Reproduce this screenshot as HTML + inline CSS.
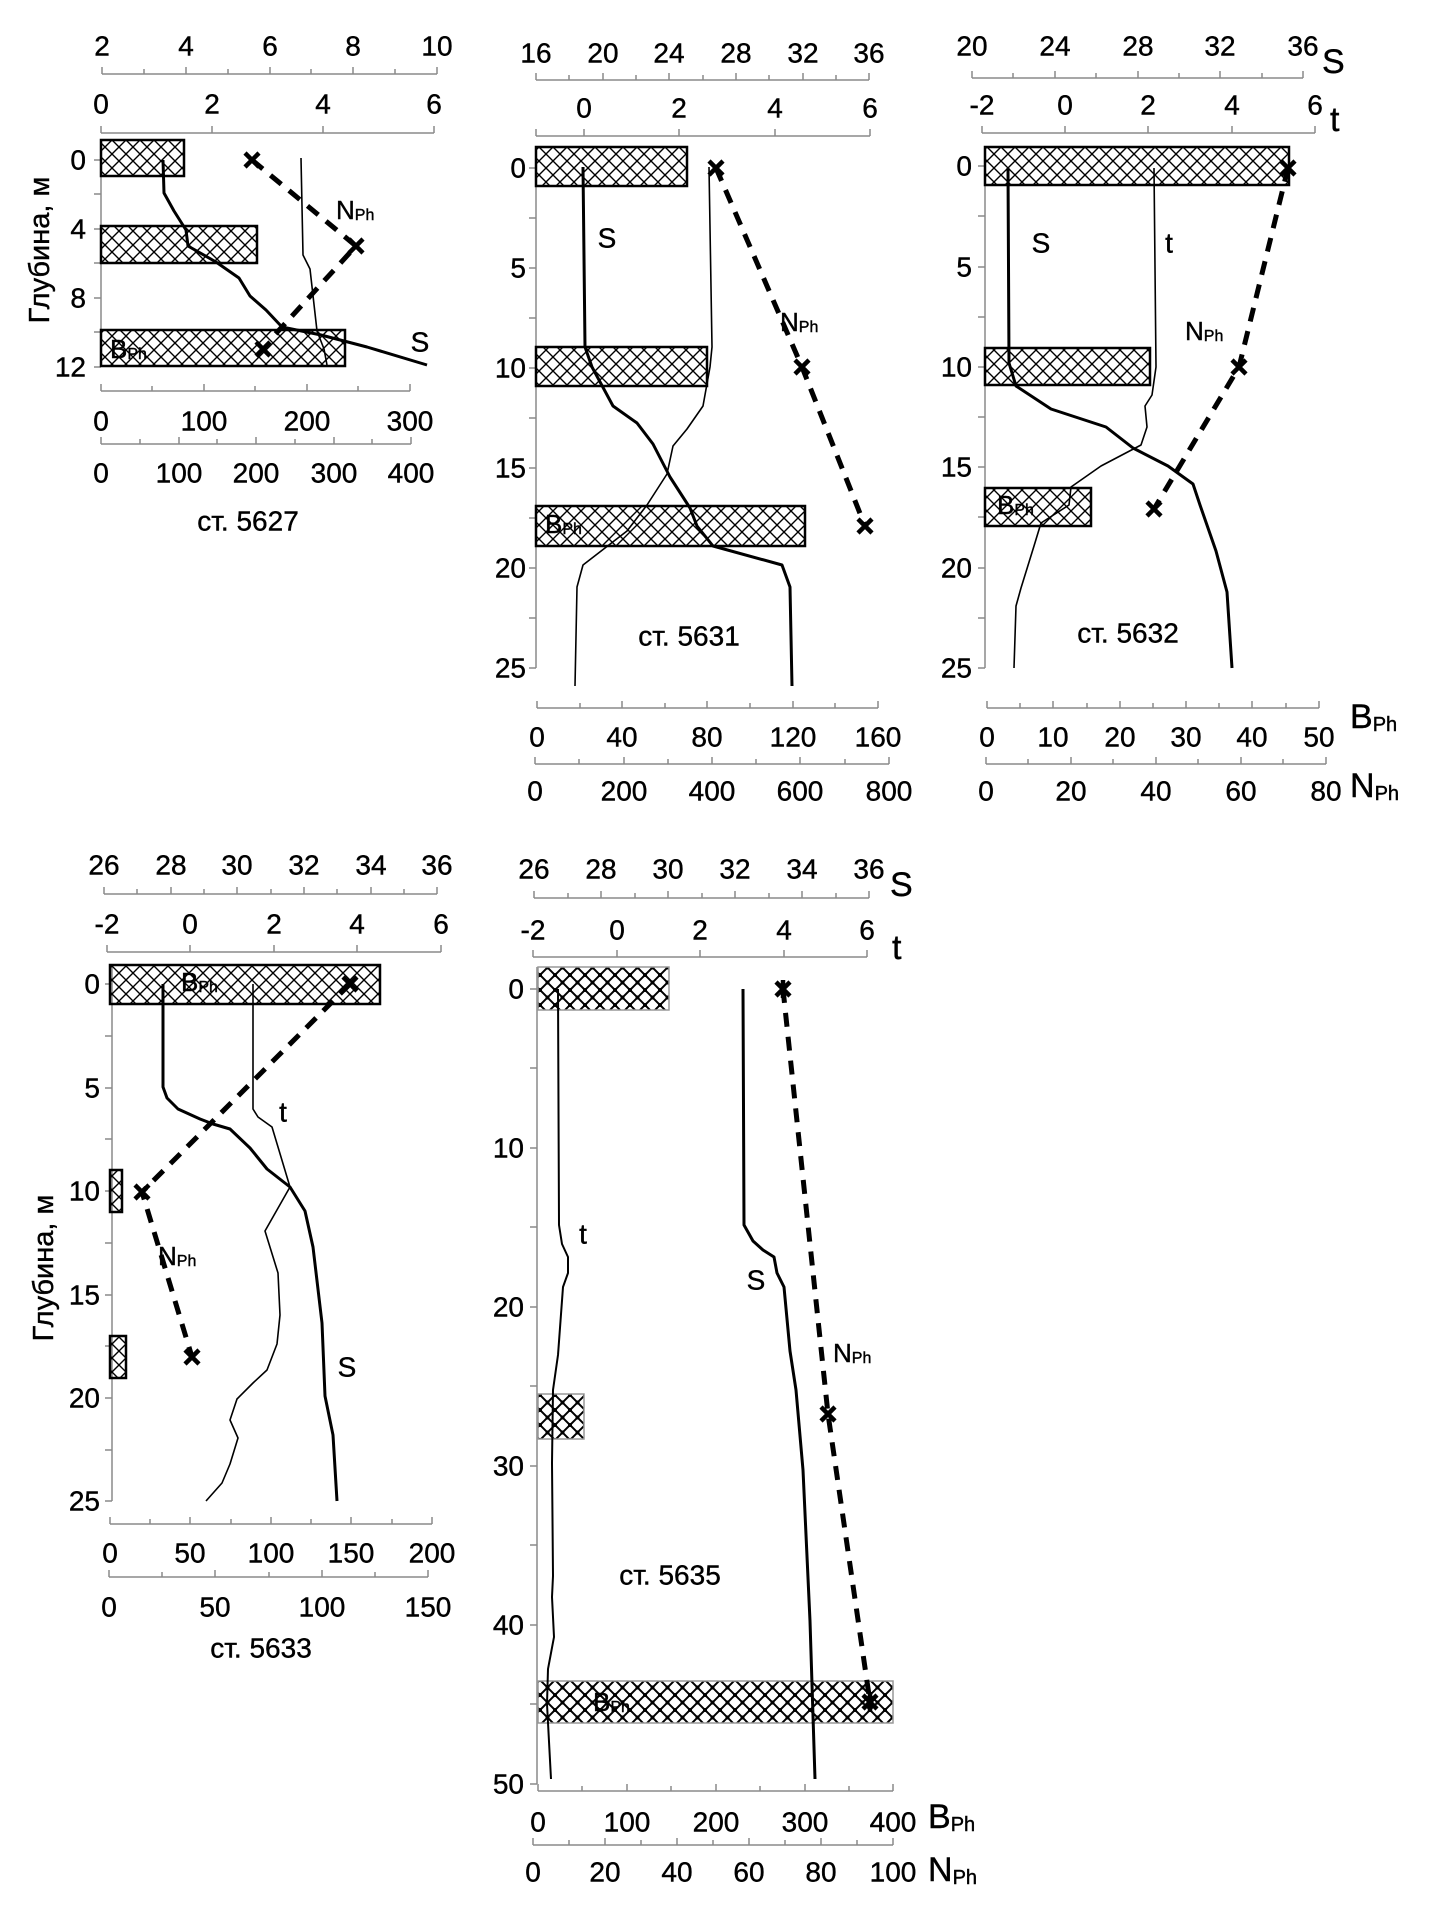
<!DOCTYPE html>
<html><head><meta charset="utf-8"><style>
html,body{margin:0;padding:0;background:#fff}
svg{display:block}
text{font-family:"Liberation Sans","DejaVu Sans",sans-serif;fill:#000;stroke:#000;stroke-width:0.4}
</style></head><body>
<svg width="1443" height="1920" viewBox="0 0 1443 1920" xmlns="http://www.w3.org/2000/svg">
<defs>
<pattern id="h" patternUnits="userSpaceOnUse" width="14" height="14">
<path d="M0 0L14 14M14 0L0 14" stroke="#000" stroke-width="1.4"/>
</pattern>
<pattern id="h2" patternUnits="userSpaceOnUse" width="15" height="15">
<path d="M0 0L15 15M15 0L0 15" stroke="#000" stroke-width="2"/>
<circle cx="0" cy="0" r="2"/><circle cx="15" cy="0" r="2"/><circle cx="0" cy="15" r="2"/><circle cx="15" cy="15" r="2"/><circle cx="7.5" cy="7.5" r="2"/>
</pattern>
</defs>

<g stroke="#8a8a8a" stroke-width="1.5" fill="none">
<path d="M102 74H437M102 74v-7M144 74v-5M186 74v-7M228 74v-5M270 74v-7M311 74v-5M353 74v-7M395 74v-5M437 74v-7"/>
<path d="M101 133H434M101 133v-7M212 133v-7M323 133v-7M434 133v-7"/>
<path d="M101 140V367M101 160h-7M101 194h-7M101 229h-7M101 263h-7M101 298h-7M101 332h-7M101 367h-7"/>
<path d="M101 391H410M101 391v-7M152 391v-5M204 391v-7M255 391v-5M307 391v-7M358 391v-5M410 391v-7"/>
<path d="M101 444H411M101 444v-7M140 444v-5M179 444v-7M217 444v-5M256 444v-7M295 444v-5M334 444v-7M372 444v-5M411 444v-7"/>
<path d="M536 80H869M536 80v-7M569 80v-5M603 80v-7M636 80v-5M669 80v-7M703 80v-5M736 80v-7M769 80v-5M803 80v-7M836 80v-5M869 80v-7"/>
<path d="M536 136H870M536 136v-7M584 136v-7M679 136v-7M775 136v-7M870 136v-7"/>
<path d="M536 147V668M536 168h-7M536 218h-7M536 268h-7M536 318h-7M536 368h-7M536 418h-7M536 468h-7M536 518h-7M536 568h-7M536 618h-7M536 668h-7"/>
<path d="M537 708H878M537 708v-7M580 708v-5M622 708v-7M665 708v-5M707 708v-7M750 708v-5M793 708v-7M835 708v-5M878 708v-7"/>
<path d="M535 764H889M535 764v-7M579 764v-5M624 764v-7M668 764v-5M712 764v-7M756 764v-5M800 764v-7M845 764v-5M889 764v-7"/>
<path d="M972 78H1303M972 78v-7M1013 78v-5M1055 78v-7M1096 78v-5M1138 78v-7M1179 78v-5M1220 78v-7M1262 78v-5M1303 78v-7"/>
<path d="M982 133H1315M982 133v-7M1065 133v-7M1148 133v-7M1232 133v-7M1315 133v-7"/>
<path d="M985 147V668M985 166h-7M985 216h-7M985 267h-7M985 317h-7M985 367h-7M985 417h-7M985 467h-7M985 517h-7M985 568h-7M985 618h-7M985 668h-7"/>
<path d="M987 708H1319M987 708v-7M1020 708v-5M1053 708v-7M1087 708v-5M1120 708v-7M1153 708v-5M1186 708v-7M1219 708v-5M1252 708v-7M1286 708v-5M1319 708v-7"/>
<path d="M986 764H1326M986 764v-7M1028 764v-5M1071 764v-7M1113 764v-5M1156 764v-7M1198 764v-5M1241 764v-7M1283 764v-5M1326 764v-7"/>
<path d="M104 894H437M104 894v-7M137 894v-5M171 894v-7M204 894v-5M237 894v-7M271 894v-5M304 894v-7M337 894v-5M371 894v-7M404 894v-5M437 894v-7"/>
<path d="M107 952H441M107 952v-7M190 952v-7M274 952v-7M357 952v-7M441 952v-7"/>
<path d="M112 965V1501M112 984h-7M112 1036h-7M112 1088h-7M112 1139h-7M112 1191h-7M112 1243h-7M112 1295h-7M112 1346h-7M112 1398h-7M112 1450h-7M112 1501h-7"/>
<path d="M110 1524H432M110 1524v-7M150 1524v-5M190 1524v-7M231 1524v-5M271 1524v-7M311 1524v-5M351 1524v-7M392 1524v-5M432 1524v-7"/>
<path d="M109 1577H428M109 1577v-7M162 1577v-5M215 1577v-7M269 1577v-5M322 1577v-7M375 1577v-5M428 1577v-7"/>
<path d="M534 898H869M534 898v-7M568 898v-5M601 898v-7M635 898v-5M668 898v-7M702 898v-5M735 898v-7M769 898v-5M802 898v-7M836 898v-5M869 898v-7"/>
<path d="M533 957H867M533 957v-7M617 957v-7M700 957v-7M784 957v-7M867 957v-7"/>
<path d="M537 967V1784M537 989h-7M537 1068h-7M537 1148h-7M537 1227h-7M537 1307h-7M537 1386h-7M537 1466h-7M537 1545h-7M537 1625h-7M537 1704h-7M537 1784h-7"/>
<path d="M538 1791H893M538 1791v-7M582 1791v-5M627 1791v-7M671 1791v-5M716 1791v-7M760 1791v-5M805 1791v-7M849 1791v-5M893 1791v-7"/>
<path d="M533 1845H893M533 1845v-7M569 1845v-5M605 1845v-7M641 1845v-5M677 1845v-7M713 1845v-5M749 1845v-7M785 1845v-5M821 1845v-7M857 1845v-5M893 1845v-7"/>
</g>

<g fill="url(#h)" stroke="#000" stroke-width="2.5">
<rect x="101" y="140" width="83" height="36"/>
<rect x="101" y="226" width="156" height="37"/>
<rect x="101" y="330" width="244" height="36"/>
<rect x="536" y="147" width="151" height="39"/>
<rect x="536" y="347" width="171" height="39"/>
<rect x="536" y="506" width="269" height="40"/>
<rect x="985" y="147" width="304" height="38"/>
<rect x="985" y="348" width="165" height="37"/>
<rect x="985" y="488" width="106" height="38"/>
<rect x="110" y="965" width="270" height="39"/>
<rect x="110" y="1170" width="12" height="42"/>
<rect x="110" y="1336" width="16" height="42"/>
</g>
<g fill="url(#h2)" stroke="#999" stroke-width="1.5">
<rect x="538" y="967" width="131" height="43"/>
<rect x="538" y="1394" width="46" height="45"/>
<rect x="538" y="1681" width="355" height="42"/>
</g>

<g fill="none" stroke="#000" stroke-linejoin="round">
<polyline stroke-width="3" points="163,160 164,193 174,211 186,230 188,246 216,262 239,278 250,296 266,310 282,327 321,335 367,347 427,365"/>
<polyline stroke-width="1.6" points="301,158 303,255 310,269 317,331 324,349 327,365"/>
<polyline stroke-width="3" points="583,167 585,347 592,367 613,406 637,423 653,444 670,477 690,508 697,526 713,546 782,565 790,587 792,686"/>
<polyline stroke-width="1.6" points="709,167 712,347 710,367 703,406 687,429 673,446 667,474 647,505 627,531 583,565 577,587 575,686"/>
<polyline stroke-width="3" points="1008,168 1009,363 1016,386 1051,409 1106,427 1133,448 1168,466 1193,484 1200,505 1216,551 1227,592 1232,668"/>
<polyline stroke-width="1.6" points="1154,168 1156,367 1152,395 1145,406 1147,427 1141,445 1101,466 1071,487 1069,505 1041,523 1034,546 1021,588 1016,606 1014,668"/>
<polyline stroke-width="3" points="163,984 163,1087 167,1098 178,1109 200,1119 213,1124 230,1129 250,1148 267,1169 290,1187 305,1211 313,1247 322,1323 325,1396 333,1435 337,1501"/>
<polyline stroke-width="1.6" points="253,984 253,1109 258,1117 272,1127 290,1187 265,1231 278,1273 280,1315 277,1344 267,1370 253,1383 237,1399 230,1420 238,1438 230,1464 222,1483 206,1501"/>
<polyline stroke-width="2" points="558,989 559,1225 562,1244 568,1257 568,1273 563,1287 558,1355 553,1390 552,1463 553,1576 552,1597 554,1637 548,1669 547,1704 551,1779"/>
<polyline stroke-width="3" points="743,989 744,1225 753,1241 763,1250 774,1257 777,1273 784,1287 790,1351 796,1390 803,1470 810,1621 815,1779"/>
</g>
<g fill="none" stroke="#000" stroke-width="5" stroke-dasharray="14 10">
<polyline points="252,160 356,246 270,340"/>
<polyline points="716,168 802,367 865,526"/>
<polyline points="1288,168 1239,367 1154,509"/>
<polyline points="350,984 142,1192 192,1357"/>
<polyline points="783,989 828,1414 870,1702"/>
</g>
<g stroke="#000" stroke-width="4.5">
<path d="M245 153l14 14M259 153l-14 14"/>
<path d="M349 239l14 14M363 239l-14 14"/>
<path d="M256 342l14 14M270 342l-14 14"/>
<path d="M709 161l14 14M723 161l-14 14"/>
<path d="M795 360l14 14M809 360l-14 14"/>
<path d="M858 519l14 14M872 519l-14 14"/>
<path d="M1281 161l14 14M1295 161l-14 14"/>
<path d="M1232 360l14 14M1246 360l-14 14"/>
<path d="M1147 502l14 14M1161 502l-14 14"/>
<path d="M343 977l14 14M357 977l-14 14"/>
<path d="M135 1185l14 14M149 1185l-14 14"/>
<path d="M185 1350l14 14M199 1350l-14 14"/>
<path d="M776 982l14 14M790 982l-14 14M783 980v18"/>
<path d="M821 1407l14 14M835 1407l-14 14"/>
<path d="M863 1695l14 14M877 1695l-14 14M870 1692v20"/>
</g>

<g font-size="28" text-anchor="middle" dominant-baseline="central">
<text x="102" y="46">2</text><text x="186" y="46">4</text><text x="270" y="46">6</text><text x="353" y="46">8</text><text x="437" y="46">10</text>
<text x="101" y="104">0</text><text x="212" y="104">2</text><text x="323" y="104">4</text><text x="434" y="104">6</text>
<text x="101" y="421">0</text><text x="204" y="421">100</text><text x="307" y="421">200</text><text x="410" y="421">300</text>
<text x="101" y="473">0</text><text x="179" y="473">100</text><text x="256" y="473">200</text><text x="334" y="473">300</text><text x="411" y="473">400</text>
<text x="248" y="521">ст. 5627</text>
<text x="536" y="53">16</text><text x="603" y="53">20</text><text x="669" y="53">24</text><text x="736" y="53">28</text><text x="803" y="53">32</text><text x="869" y="53">36</text>
<text x="584" y="108">0</text><text x="679" y="108">2</text><text x="775" y="108">4</text><text x="870" y="108">6</text>
<text x="537" y="737">0</text><text x="622" y="737">40</text><text x="707" y="737">80</text><text x="793" y="737">120</text><text x="878" y="737">160</text>
<text x="535" y="791">0</text><text x="624" y="791">200</text><text x="712" y="791">400</text><text x="800" y="791">600</text><text x="889" y="791">800</text>
<text x="689" y="636">ст. 5631</text>
<text x="972" y="46">20</text><text x="1055" y="46">24</text><text x="1138" y="46">28</text><text x="1220" y="46">32</text><text x="1303" y="46">36</text>
<text x="982" y="105">-2</text><text x="1065" y="105">0</text><text x="1148" y="105">2</text><text x="1232" y="105">4</text><text x="1315" y="105">6</text>
<text x="987" y="737">0</text><text x="1053" y="737">10</text><text x="1120" y="737">20</text><text x="1186" y="737">30</text><text x="1252" y="737">40</text><text x="1319" y="737">50</text>
<text x="986" y="791">0</text><text x="1071" y="791">20</text><text x="1156" y="791">40</text><text x="1241" y="791">60</text><text x="1326" y="791">80</text>
<text x="1128" y="633">ст. 5632</text>
<text x="104" y="865">26</text><text x="171" y="865">28</text><text x="237" y="865">30</text><text x="304" y="865">32</text><text x="371" y="865">34</text><text x="437" y="865">36</text>
<text x="107" y="924">-2</text><text x="190" y="924">0</text><text x="274" y="924">2</text><text x="357" y="924">4</text><text x="441" y="924">6</text>
<text x="110" y="1553">0</text><text x="190" y="1553">50</text><text x="271" y="1553">100</text><text x="351" y="1553">150</text><text x="432" y="1553">200</text>
<text x="109" y="1607">0</text><text x="215" y="1607">50</text><text x="322" y="1607">100</text><text x="428" y="1607">150</text>
<text x="261" y="1648">ст. 5633</text>
<text x="534" y="869">26</text><text x="601" y="869">28</text><text x="668" y="869">30</text><text x="735" y="869">32</text><text x="802" y="869">34</text><text x="869" y="869">36</text>
<text x="533" y="930">-2</text><text x="617" y="930">0</text><text x="700" y="930">2</text><text x="784" y="930">4</text><text x="867" y="930">6</text>
<text x="538" y="1822">0</text><text x="627" y="1822">100</text><text x="716" y="1822">200</text><text x="805" y="1822">300</text><text x="893" y="1822">400</text>
<text x="533" y="1872">0</text><text x="605" y="1872">20</text><text x="677" y="1872">40</text><text x="749" y="1872">60</text><text x="821" y="1872">80</text><text x="893" y="1872">100</text>
<text x="670" y="1575">ст. 5635</text>
</g>
<g font-size="28" text-anchor="end" dominant-baseline="central">
<text x="86" y="160">0</text><text x="86" y="229">4</text><text x="86" y="298">8</text><text x="86" y="367">12</text>
<text x="526" y="168">0</text><text x="526" y="268">5</text><text x="526" y="368">10</text><text x="526" y="468">15</text><text x="526" y="568">20</text><text x="526" y="668">25</text>
<text x="972" y="166">0</text><text x="972" y="267">5</text><text x="972" y="367">10</text><text x="972" y="467">15</text><text x="972" y="568">20</text><text x="972" y="668">25</text>
<text x="100" y="984">0</text><text x="100" y="1088">5</text><text x="100" y="1191">10</text><text x="100" y="1295">15</text><text x="100" y="1398">20</text><text x="100" y="1501">25</text>
<text x="524" y="989">0</text><text x="524" y="1148">10</text><text x="524" y="1307">20</text><text x="524" y="1466">30</text><text x="524" y="1625">40</text><text x="524" y="1784">50</text>
</g>
<text font-size="29" text-anchor="middle" dominant-baseline="central" transform="translate(40,250) rotate(-90)">Глубина, м</text>
<text font-size="29" text-anchor="middle" dominant-baseline="central" transform="translate(44,1268) rotate(-90)">Глубина, м</text>
<g font-size="34" dominant-baseline="central">
<text x="1322" y="62">S</text><text x="1330" y="120">t</text>
<text x="1350" y="717">B<tspan font-size="20" dy="8">Ph</tspan></text>
<text x="1350" y="786">N<tspan font-size="20" dy="8">Ph</tspan></text>
<text x="890" y="885">S</text><text x="892" y="948">t</text>
<text x="928" y="1817">B<tspan font-size="20" dy="8">Ph</tspan></text>
<text x="928" y="1870">N<tspan font-size="20" dy="8">Ph</tspan></text>
</g>
<g font-size="28" text-anchor="middle" dominant-baseline="central">
<text x="420" y="342">S</text>
<text x="607" y="238">S</text>
<text x="1041" y="243">S</text><text x="1169" y="243">t</text>
<text x="283" y="1112">t</text><text x="347" y="1367">S</text>
<text x="583" y="1234">t</text><text x="756" y="1280">S</text>
</g>
<g font-size="26" dominant-baseline="central">
<text x="336" y="210">N<tspan font-size="16" dy="5">Ph</tspan></text>
<text x="780" y="322">N<tspan font-size="16" dy="5">Ph</tspan></text>
<text x="1185" y="331">N<tspan font-size="16" dy="5">Ph</tspan></text>
<text x="158" y="1256">N<tspan font-size="16" dy="5">Ph</tspan></text>
<text x="833" y="1353">N<tspan font-size="16" dy="5">Ph</tspan></text>
<text x="110" y="349">B<tspan font-size="16" dy="5">Ph</tspan></text>
<text x="545" y="524">B<tspan font-size="16" dy="5">Ph</tspan></text>
<text x="997" y="505">B<tspan font-size="16" dy="5">Ph</tspan></text>
<text x="181" y="982">B<tspan font-size="16" dy="5">Ph</tspan></text>
<text x="593" y="1702">B<tspan font-size="16" dy="5">Ph</tspan></text>
</g>
</svg>
</body></html>
